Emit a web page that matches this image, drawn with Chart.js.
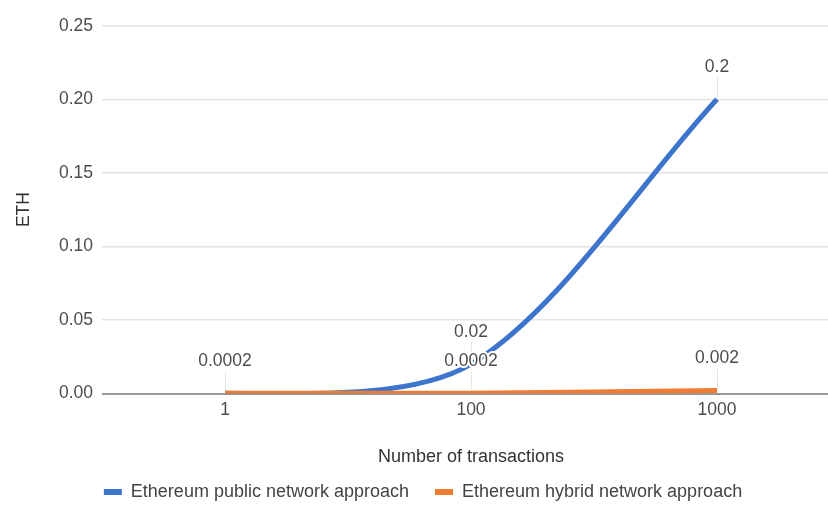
<!DOCTYPE html>
<html><head><meta charset="utf-8">
<script src="https://cdn.jsdelivr.net/npm/chart.js@4"></script>
<style>
html,body{margin:0;padding:0;background:#fff;overflow:hidden;width:828px;height:505px;}
#wrap{width:840px;height:511px;position:relative;}
</style></head><body>
<div id="wrap"><canvas id="c"></canvas></div>
<script>
// ---- data ----
const categories = ['1', '100', '1000'];
const publicSeries = [0.0002, 0.02, 0.2];
const hybridSeries = [0.0002, 0.0002, 0.002];
const publicLabels = ['0.0002', '0.02', '0.2'];
const hybridLabels = ['0.0002', '0.0002', '0.002'];
const yTicks = [0, 0.05, 0.10, 0.15, 0.20, 0.25];
const seriesNames = ['Ethereum public network approach', 'Ethereum hybrid network approach'];
const xTitle = 'Number of transactions';
const yTitle = 'ETH';

const FONT = 'Liberation Sans, Arial, sans-serif';
const FS = 17.5;
const FS_BIG = 18;
const BLUE = '#3d74cc';
const ORANGE = '#f07b33';
const TEXT = '#4d4d4d';
const TITLE = '#333333';
const LEGEND_PAD = 26;

const annotationPlugin = {
  id: 'annot',
  afterLayout(chart) {
    if (chart.legend) { chart.legend.left += 3; chart.legend.right += 3; }
  },
  beforeDatasetDraw(chart, args) {
    // Google-style smooth curve: the first point leaves horizontally
    if (args.index === 0) {
      const line = args.meta.dataset;
      if (line && line.updateControlPoints) {
        line.updateControlPoints(chart.chartArea, args.meta.indexAxis);
        const pts = line.points;
        if (pts && pts.length) { pts[0].cp2y = pts[0].y; }
        delete line._path;
      }
    }
  },
  beforeDatasetsDraw(chart) {
    const ctx = chart.ctx;
    ctx.save();
    ctx.strokeStyle = '#e6e6e6';
    ctx.lineWidth = 1;
    chart.data.datasets.forEach((ds, i) => {
      const meta = chart.getDatasetMeta(i);
      meta.data.forEach(pt => {
        ctx.beginPath();
        ctx.moveTo(Math.round(pt.x) + 0.5, pt.y - 1);
        ctx.lineTo(Math.round(pt.x) + 0.5, pt.y - 22);
        ctx.stroke();
      });
    });
    ctx.restore();
  },
  afterDatasetsDraw(chart) {
    const ctx = chart.ctx;
    ctx.save();
    ctx.font = FS + 'px ' + FONT;
    ctx.textAlign = 'center';
    ctx.textBaseline = 'middle';
    ctx.lineJoin = 'round';
    chart.data.datasets.forEach((ds, i) => {
      const meta = chart.getDatasetMeta(i);
      meta.data.forEach((pt, j) => {
        const txt = ds.annotations[j];
        ctx.strokeStyle = '#ffffff';
        ctx.lineWidth = 4;
        ctx.strokeText(txt, pt.x, pt.y - 32);
        ctx.fillStyle = TEXT;
        ctx.fillText(txt, pt.x, pt.y - 32);
      });
    });
    ctx.restore();
  }
};

new Chart(document.getElementById('c'), {
  type: 'line',
  data: {
    labels: categories,
    datasets: [
      { label: seriesNames[0], data: publicSeries, annotations: publicLabels,
        borderColor: BLUE, backgroundColor: BLUE, borderWidth: 5, tension: 0.3,
        capBezierPoints: false, clip: 0,
        pointRadius: 0, borderCapStyle: 'butt', order: 1 },
      { label: seriesNames[1], data: hybridSeries, annotations: hybridLabels,
        borderColor: ORANGE, backgroundColor: ORANGE, borderWidth: 5, tension: 0.4,
        pointRadius: 0, borderCapStyle: 'butt', order: 0 }
    ]
  },
  options: {
    responsive: true,
    maintainAspectRatio: false,
    animation: false,
    layout: { padding: { top: 25.7, left: 0, right: 0, bottom: 0 } },
    plugins: {
      tooltip: { enabled: false },
      legend: {
        position: 'bottom',
        labels: {
          boxWidth: 18, boxHeight: 6, padding: LEGEND_PAD,
          color: '#444', font: { family: FONT, size: FS_BIG },
          sort: (a, b) => a.datasetIndex - b.datasetIndex,
          generateLabels: (chart) => Chart.defaults.plugins.legend.labels.generateLabels(chart)
            .map(l => Object.assign(l, { lineWidth: 0 }))
        }
      }
    },
    scales: {
      x: {
        offset: true,
        grid: { display: false, drawTicks: false },
        border: { display: false },
        ticks: { color: TEXT, font: { family: FONT, size: FS }, padding: 6 },
        title: { display: true, text: xTitle, color: TITLE, font: { family: FONT, size: FS_BIG },
                 padding: { top: 0, bottom: -10.8 } },
        afterFit: (s) => { s.height = 511 - (FS_BIG + LEGEND_PAD + 10) - 393.5; }
      },
      y: {
        min: 0, max: 0.25,
        afterBuildTicks: (s) => { s.ticks = yTicks.map(v => ({ value: v })); },
        grid: {
          drawTicks: false,
          color: (c) => c.tick && c.tick.value === 0 ? '#9a9a9a' : '#e4e4e4',
          lineWidth: (c) => c.tick && c.tick.value === 0 ? 2 : 1.5
        },
        border: { display: false },
        ticks: { color: TEXT, font: { family: FONT, size: FS }, padding: 9,
                 callback: (v) => Number(v).toFixed(2) },
        title: { display: true, text: yTitle, color: TITLE, font: { family: FONT, size: FS },
                 padding: { top: 14, bottom: 0 } },
        afterFit: (s) => { s.width = 102; }
      }
    }
  },
  plugins: [annotationPlugin]
});
</script>
</body></html>
